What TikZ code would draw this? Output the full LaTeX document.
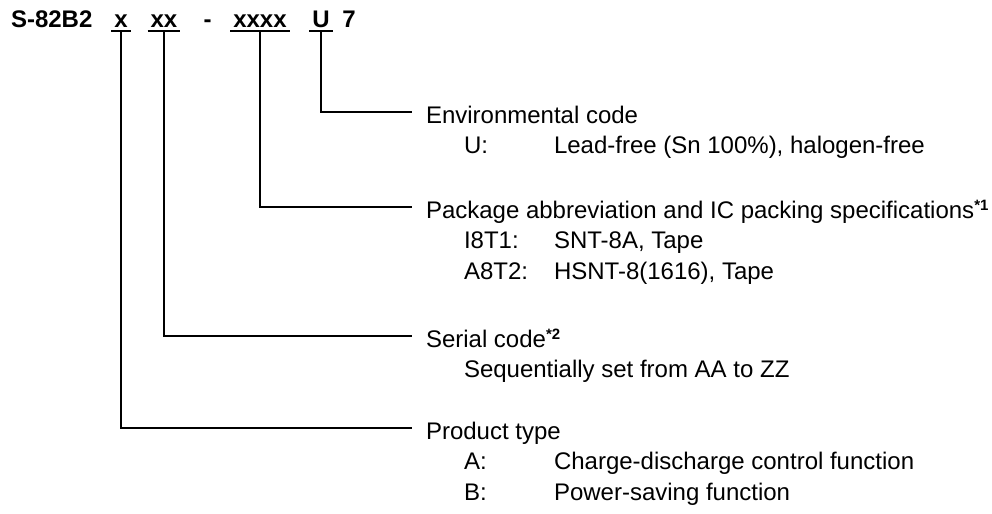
\documentclass[tikz,border=0pt]{standalone}
\usepackage{fontspec}
\setmainfont{Liberation Sans}
\usepackage{tikz}
\usetikzlibrary{positioning}
\newcommand{\fnmark}[1]{\raisebox{4pt}{\fontsize{7.5}{8}\selectfont\bfseries *#1}}

\begin{document}
\begin{tikzpicture}[x=0.5pt,y=-0.5pt,line width=1pt,font=\fontsize{12}{14}\selectfont,
    code/.style={anchor=base,inner xsep=1pt,inner ysep=1.5pt,text depth=0pt,font=\fontsize{12}{14}\selectfont\bfseries},
    head/.style={anchor=west,inner xsep=6.5pt,inner ysep=0pt,text height=12pt,text depth=1pt},
    item/.style={anchor=base west,inner sep=0pt},
    uline/.style={line width=1.3pt},
    link/.style={to path={|- (\tikztotarget)}}]
    \useasboundingbox (0,0) rectangle (992,514);

    % product code
    \node[code,anchor=base west] (prefix) at (8,27) {S-82B2};
    \node[code] (cptype)  at (121,27)   {x};
    \node[code] (cserial) at (164,27)   {xx};
    \node[code] (dash)    at (207.5,27) {-};
    \node[code] (cpkg)    at (260,27)   {xxxx};
    \node[code] (cenv)    at (321,27)   {U};
    \node[code] (ver)     at (349,27)   {7};
    \foreach \n in {cptype,cserial,cpkg,cenv}
      \draw[uline] (\n.south west) -- (\n.south east);

    % headings
    \node[head] (henv)   at (412,112) {Environmental code};
    \node[head] (hpkg)   at (412,207) {Package abbreviation and IC packing specifications\fnmark{1}};
    \node[head] (hser)   at (412,336) {Serial code\fnmark{2}};
    \node[head] (hptype) at (412,428) {Product type};

    % entries
    \node[item] (ienv)  at (463,153.5) {\makebox[45pt][l]{U:}Lead-free (Sn 100\%), halogen-free};
    \node[item] (ipkg1) at (463,248.5) {\makebox[45pt][l]{I8T1:}SNT-8A, Tape};
    \node[item] (ipkg2) at (463,279.5) {\makebox[45pt][l]{A8T2:}HSNT-8(1616), Tape};
    \node[item] (iser)  at (463,377.5) {Sequentially set from AA to ZZ};
    \node[item] (ipta)  at (463,469.5) {\makebox[45pt][l]{A:}Charge-discharge control function};
    \node[item] (iptb)  at (463,500.5) {\makebox[45pt][l]{B:}Power-saving function};

    \path
    (cenv.south)    edge[link] (henv.west)
    (cpkg.south)    edge[link] (hpkg.west)
    (cserial.south) edge[link] (hser.west)
    (cptype.south)  edge[link] (hptype.west);
\end{tikzpicture}
\end{document}
